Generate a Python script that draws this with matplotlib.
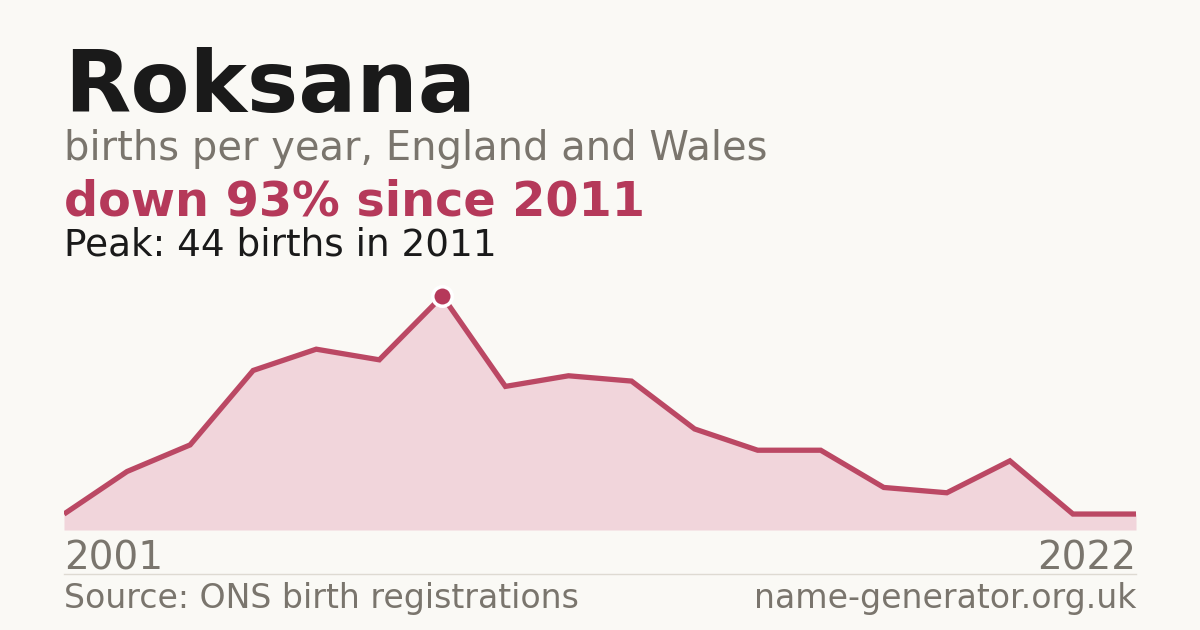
import matplotlib
matplotlib.use("Agg")
import matplotlib.pyplot as plt

plt.rcParams["font.family"] = ["DejaVu Sans"]

# births per year (only years with published counts)
years = [2001, 2003, 2005, 2007, 2008, 2010, 2011, 2012, 2013, 2014, 2015,
         2016, 2017, 2018, 2019, 2020, 2021, 2022]
births = [3, 11, 16, 30, 34, 32, 44, 27, 29, 28, 19, 15, 15, 8, 7, 13, 3, 3]

name = "Roksana"
subtitle = "births per year, England and Wales"
change_text = "down 93% since 2011"
peak_text = "Peak: 44 births in 2011"
source_text = "Source: ONS birth registrations"
site_text = "name-generator.org.uk"

bg = "#faf9f5"
red = "#b5395a"
grey = "#7a756d"
W, H = 1200, 630

fig = plt.figure(figsize=(12, 6.3), dpi=100, facecolor=bg)

def px(x, y):
    return x / W, 1 - y / H

# chart area: x 64..1136, baseline at y=530, 44 births at y=296
left, right, bottom, top = 64, 1136, 530, 280
ax = fig.add_axes([left / W, (H - bottom) / H, (right - left) / W, (bottom - top) / H])
ax.set_facecolor(bg)
idx = list(range(len(years)))
ymax = max(births) * (bottom - top) / (bottom - 296)
ax.fill_between(idx, births, 0, color="#f1d5db", lw=0)
ax.plot(idx, births, color="#bb4864", lw=3.8, solid_joinstyle="miter", solid_capstyle="butt")
pk = births.index(max(births))
ax.plot([idx[pk]], [births[pk]], "o", ms=14, color=red, mec="white", mew=2.5, zorder=5)
ax.set_xlim(0, len(years) - 1)
ax.set_ylim(0, ymax)
ax.axis("off")

# texts
fig.text(*px(64, 112), name, fontsize=62, fontweight="bold", color="#1a1a1a", va="baseline")
fig.text(*px(64, 160), subtitle, fontsize=28.8, color=grey, va="baseline")
fig.text(*px(64, 215), change_text, fontsize=34.4, fontweight="bold", color=red, va="baseline")
fig.text(*px(64, 255), peak_text, fontsize=26.9, color="#1a1a1a", va="baseline")
fig.text(*px(64, 570), str(years[0]), fontsize=28, color=grey, va="baseline")
fig.text(*px(1136, 570), str(years[-1]), fontsize=28, color=grey, va="baseline", ha="right")
fig.text(*px(64, 608), source_text, fontsize=23.9, color=grey, va="baseline")
fig.text(*px(1136, 608), site_text, fontsize=23.9, color=grey, va="baseline", ha="right")

# separator line
fig.add_artist(plt.Line2D([left / W, right / W], [1 - 574 / H] * 2, color="#dedad2", lw=1))

fig.savefig("out.png", dpi=100, facecolor=bg)
